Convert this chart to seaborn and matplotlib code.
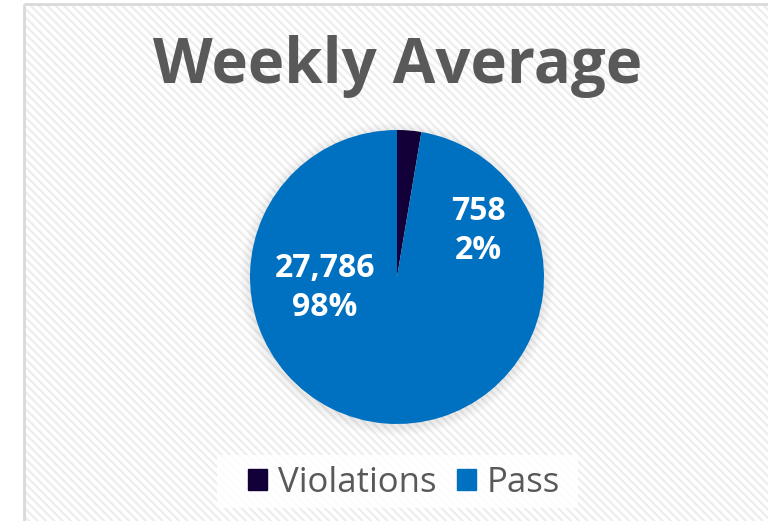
import matplotlib
matplotlib.use("Agg")
import matplotlib.pyplot as plt
import seaborn as sns
from matplotlib.patches import Rectangle, Circle

sns.set_theme(style="white")
plt.rcParams['font.family'] = ['Open Sans', 'DejaVu Sans']
plt.rcParams['hatch.linewidth'] = 1.6

categories = ["Violations", "Pass"]
values = [758, 27786]
percents = ["2%", "98%"]
colors = ["#130038", "#0070C0"]
title = "Weekly Average"

W, H = 768, 521
fig = plt.figure(figsize=(W / 100, H / 100), dpi=100)
fig.patch.set_facecolor("white")

# chart area background with hatch
bg = fig.add_axes([0, 0, 1, 1])
bg.set_xlim(0, W)
bg.set_ylim(H, 0)
bg.axis("off")
bg.add_patch(Rectangle((24, 4), W, H, facecolor="white", edgecolor="#ededed",
                       hatch="\\\\\\\\", linewidth=0))
bg.add_patch(Rectangle((24, 4), W, H, facecolor="none", edgecolor="#d9d9d9",
                       linewidth=2))
# soft shadow around pie
cx, cy, r = 397, 277, 147
for i in range(10):
    bg.add_patch(Circle((cx, cy + 2), r + 10 - i, facecolor="#000000",
                        alpha=0.006, edgecolor="none"))
# legend box
bg.add_patch(Rectangle((217, 455), 361, 53, facecolor="white", edgecolor="none", alpha=0.85))

bg.text(398, 66, title, ha="center", va="center", fontsize=44.5, fontweight="bold",
        color="#595959")

# pie
ax = fig.add_axes([(cx - r) / W, 1 - (cy + r) / H, 2 * r / W, 2 * r / H])
wedges, _ = ax.pie(values, colors=colors, startangle=90, counterclock=False,
                   radius=1, wedgeprops=dict(linewidth=0))
ax.set_xlim(-1, 1)
ax.set_ylim(-1, 1)
ax.set_aspect("equal")
ax.axis("off")

# labels (in pie data coordinates, converted from pixel positions)
label_pos = [(478, 231), (325, 288)]
for (x, y), v, p in zip(label_pos, values, percents):
    ax.text((x - cx) / r, (cy - y) / r, f"{v:,}\n{p}", ha="center", va="center",
            fontsize=23, fontweight="bold", color="white", linespacing=1.25)

# legend
handles = [Rectangle((0, 0), 1, 1, color=c) for c in colors]
leg = fig.legend(handles, categories, loc="center", bbox_to_anchor=(404 / W, 1 - 483 / H),
                 ncol=2, frameon=False, fontsize=25, handlelength=0.55, handleheight=0.55,
                 handletextpad=0.3, columnspacing=0.6, labelcolor="#595959")

fig.savefig("out.png", dpi=100)
